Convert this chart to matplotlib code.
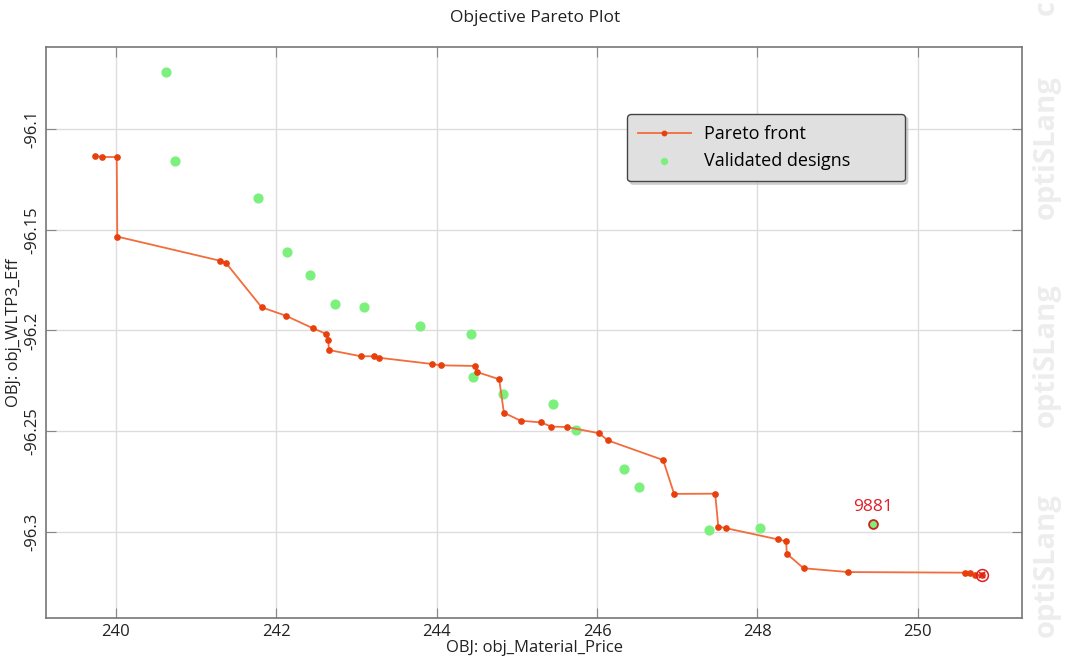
import matplotlib.pyplot as plt

plt.rcParams['font.family'] = ['Open Sans', 'DejaVu Sans']

# pareto front (material price, WLTP3 efficiency)
pareto_price = [239.738, 239.822, 240.009, 240.016, 241.300, 241.372, 241.817, 242.120,
                242.456, 242.622, 242.647, 242.656, 243.055, 243.213, 243.276, 243.936,
                244.049, 244.480, 244.501, 244.779, 244.838, 245.046, 245.299, 245.428,
                245.620, 246.026, 246.131, 246.824, 246.961, 247.473, 247.512, 247.606,
                248.258, 248.358, 248.367, 248.575, 249.131, 250.586, 250.648, 250.719,
                250.802]
pareto_eff = [-96.1133, -96.1139, -96.1139, -96.1534, -96.1654, -96.1665, -96.1885, -96.1927,
              -96.1989, -96.2017, -96.2046, -96.2097, -96.2128, -96.2128, -96.2135, -96.2166,
              -96.2173, -96.2176, -96.2206, -96.2242, -96.2408, -96.2448, -96.2456, -96.2477,
              -96.2479, -96.2510, -96.2545, -96.2643, -96.2811, -96.2810, -96.2973, -96.2981,
              -96.3037, -96.3046, -96.3108, -96.3180, -96.3199, -96.3202, -96.3203, -96.3213,
              -96.3215]

# validated designs
valid_price = [240.623, 240.732, 241.774, 242.136, 242.423, 242.731, 243.096, 243.794,
               244.426, 244.448, 244.825, 245.453, 245.736, 246.334, 246.525, 247.390,
               248.027, 249.439]
valid_eff = [-96.0717, -96.1157, -96.1342, -96.1609, -96.1723, -96.1868, -96.1883, -96.1976,
             -96.2019, -96.2229, -96.2314, -96.2363, -96.2494, -96.2686, -96.2778, -96.2988,
             -96.2978, -96.2959]
selected_id = "9881"
selected_idx = 17

x_ticks = [240, 242, 244, 246, 248, 250]
y_ticks = [-96.1, -96.15, -96.2, -96.25, -96.3]
y_ticklabels = ["-96.1", "-96.15", "-96.2", "-96.25", "-96.3"]

fig = plt.figure(figsize=(10.69, 6.64), dpi=100)
ax = fig.add_axes([46 / 1069, 46 / 664, 976 / 1069, 571 / 664])

ax.plot(pareto_price, pareto_eff, color="#F26C3C", lw=1.3, marker="o", ms=3.8,
        mfc="#E8400C", mec="#E8400C", label="Pareto front", zorder=3)
ax.scatter(valid_price, valid_eff, s=40, color="#7CF07C", label="Validated designs", zorder=2)

# highlighted design
ax.scatter([valid_price[selected_idx]], [valid_eff[selected_idx]], s=40, color="#7CF07C",
           edgecolors="#D42020", linewidths=1.3, zorder=4)
ax.annotate(selected_id, (valid_price[selected_idx], valid_eff[selected_idx]),
            xytext=(0, 6), textcoords="offset points", ha="center", va="bottom",
            color="#E0202A", fontsize=12.5)

# end point of the front
ax.plot([pareto_price[-1]], [pareto_eff[-1]], marker="o", ms=8.5, mfc="none",
        mec="#E02020", mew=1.1, zorder=5)
ax.plot([pareto_price[-1]], [pareto_eff[-1]], marker="x", ms=4.5, color="#E02020",
        mew=1.2, zorder=5)

ax.set_xlim(239.127, 251.30)
ax.set_ylim(-96.3427, -96.0593)
ax.set_xticks(x_ticks)
ax.set_yticks(y_ticks)
ax.set_yticklabels(y_ticklabels, rotation=90, va="center")
ax.tick_params(direction="in", length=7, color="#888888", labelsize=12,
               top=True, right=True, labelcolor="#222222")
ax.tick_params(axis="x", pad=4)
ax.tick_params(axis="y", pad=4)
ax.grid(True, color="#DDDDDD", lw=1)
ax.set_axisbelow(True)
for s in ax.spines.values():
    s.set_color("#777777")
    s.set_linewidth(1.2)

ax.set_xlabel("OBJ: obj_Material_Price", fontsize=12, labelpad=0, color="#222222")
ax.set_ylabel("OBJ: obj_WLTP3_Eff", fontsize=12, labelpad=2, color="#222222")
fig.text(535 / 1069, 1 - 18 / 664, "Objective Pareto Plot", ha="center", va="center",
         fontsize=12.5, color="#222222")

# legend box stretched to a fixed width
leg = ax.legend(loc="upper left", bbox_to_anchor=(581 / 976, 0.5, 278 / 976, 1 - 67 / 571 - 0.5),
                mode="expand", fontsize=13, frameon=True, fancybox=True,
                shadow={"color": "#BBBBBB", "alpha": 0.6},
                framealpha=1, borderpad=0.62, handlelength=2.9, labelspacing=0.5,
                handletextpad=0.75, borderaxespad=0)
leg.get_frame().set_facecolor("#E0E0E0")
leg.get_frame().set_edgecolor("#444444")
leg.legend_handles[0].set_markersize(3.2)
leg.legend_handles[1].set_sizes([18])

# watermark along the right edge
for yy in [0.149, 0.465, 0.779]:
    fig.text(1046 / 1069, yy, "optiSLang", rotation=90, ha="center", va="center",
             fontsize=21, fontweight="bold", color="#EDEDED")
fig.text(1046 / 1069, 1.0, "c", rotation=90, ha="center", va="top",
         fontsize=21, fontweight="bold", color="#EDEDED")

fig.savefig("out.png", dpi=100)
